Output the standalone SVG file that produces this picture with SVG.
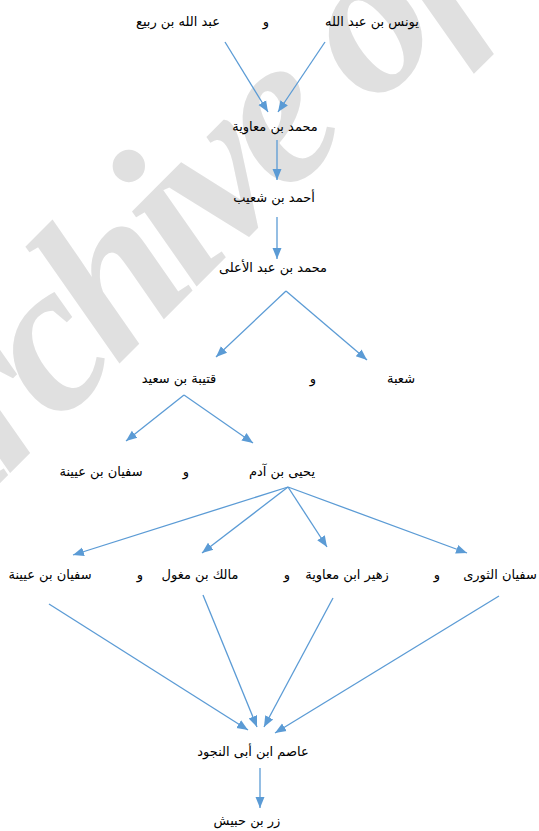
<svg xmlns="http://www.w3.org/2000/svg" width="539" height="831" viewBox="0 0 539 831">
<style>
.t{font-family:"DejaVu Sans",sans-serif;font-size:13px;fill:#000;text-anchor:middle}
.c{stroke:#5B9BD5;stroke-width:1.3;fill:none;marker-end:url(#ah)}
.wm{font-family:"Liberation Serif",serif;font-weight:bold;font-style:italic;font-size:215px;letter-spacing:-12px;fill:#e0e0e0}
</style>
<defs>
<marker id="ah" markerUnits="userSpaceOnUse" markerWidth="13" markerHeight="13" viewBox="0 0 13 13" refX="11" refY="6.5" orient="auto">
<path d="M0,2 L11,6.5 L0,11 z" fill="#5B9BD5"/>
</marker>
</defs>
<rect width="539" height="831" fill="#fff"/>
<text class="wm" transform="translate(-86,569) rotate(-45)">Archive of</text>
<g id="connectors">
<line class="c" x1="225" y1="42" x2="268" y2="112"/>
<line class="c" x1="325" y1="42" x2="278" y2="112"/>
<line class="c" x1="277" y1="140" x2="277" y2="180"/>
<line class="c" x1="277" y1="217" x2="277" y2="259"/>
<line class="c" x1="286" y1="291" x2="216" y2="357"/>
<line class="c" x1="286" y1="291" x2="367" y2="360"/>
<line class="c" x1="184" y1="395" x2="126" y2="441"/>
<line class="c" x1="184" y1="395" x2="253" y2="443"/>
<line class="c" x1="288" y1="487" x2="73" y2="555"/>
<line class="c" x1="288" y1="487" x2="202" y2="553"/>
<line class="c" x1="288" y1="487" x2="327" y2="547"/>
<line class="c" x1="288" y1="487" x2="467" y2="553"/>
<line class="c" x1="49" y1="604" x2="248" y2="730"/>
<line class="c" x1="203" y1="595" x2="257" y2="727"/>
<line class="c" x1="333" y1="598" x2="264" y2="727"/>
<line class="c" x1="499" y1="596" x2="275" y2="733"/>
<line class="c" x1="260" y1="768" x2="260" y2="808"/>
</g>
<g id="n-yunus"><text class="t" x="372" y="26">يونس بن عبد الله</text></g>
<g id="n-and1"><text class="t" x="266" y="26">و</text></g>
<g id="n-abdallah"><text class="t" x="178" y="26">عبد الله بن ربيع</text></g>
<g id="n-muhammad-muawiya"><text class="t" x="275" y="131">محمد بن معاوية</text></g>
<g id="n-ahmad"><text class="t" x="274" y="202">أحمد بن شعيب</text></g>
<g id="n-muhammad-abdalala"><text class="t" x="273" y="272">محمد بن عبد الأعلى</text></g>
<g id="n-qutayba"><text class="t" x="179" y="383">قتيبة بن سعيد</text></g>
<g id="n-and2"><text class="t" x="313" y="383">و</text></g>
<g id="n-shuba"><text class="t" x="401" y="383">شعبة</text></g>
<g id="n-sufyan1"><text class="t" x="101" y="476">سفيان بن عيينة</text></g>
<g id="n-and3"><text class="t" x="186" y="476">و</text></g>
<g id="n-yahya"><text class="t" x="282" y="476">يحيى بن آدم</text></g>
<g id="n-sufyan2"><text class="t" x="50" y="579">سفيان بن عيينة</text></g>
<g id="n-and4"><text class="t" x="140" y="579">و</text></g>
<g id="n-malik"><text class="t" x="200" y="579">مالك بن مغول</text></g>
<g id="n-and5"><text class="t" x="287" y="579">و</text></g>
<g id="n-zuhayr"><text class="t" x="347" y="579">زهير ابن معاوية</text></g>
<g id="n-and6"><text class="t" x="437" y="579">و</text></g>
<g id="n-thawri"><text class="t" x="500" y="579">سفيان الثورى</text></g>
<g id="n-asim"><text class="t" x="253" y="756">عاصم ابن أبى النجود</text></g>
<g id="n-zirr"><text class="t" x="247" y="825">زر بن حبيش</text></g>
</svg>
